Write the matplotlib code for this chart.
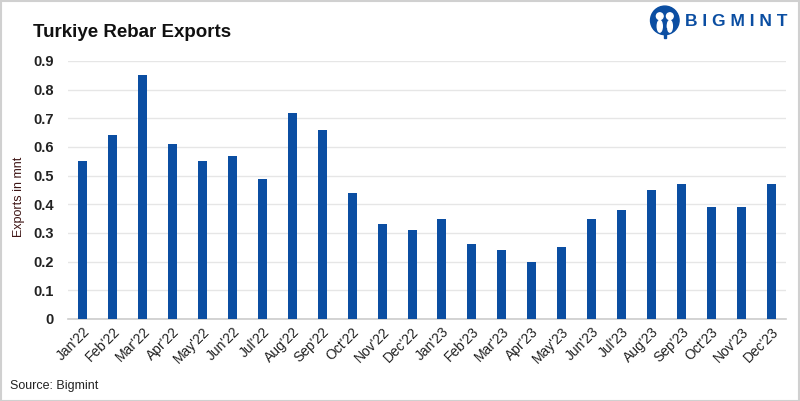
import matplotlib
matplotlib.use("Agg")
import matplotlib.pyplot as plt
from matplotlib.patches import Circle, Rectangle, Ellipse

months = ["Jan'22", "Feb'22", "Mar'22", "Apr'22", "May'22", "Jun'22", "Jul'22", "Aug'22",
          "Sep'22", "Oct'22", "Nov'22", "Dec'22", "Jan'23", "Feb'23", "Mar'23", "Apr'23",
          "May'23", "Jun'23", "Jul'23", "Aug'23", "Sep'23", "Oct'23", "Nov'23", "Dec'23"]
exports = [0.55, 0.64, 0.85, 0.61, 0.55, 0.57, 0.49, 0.72, 0.66, 0.44, 0.33, 0.31,
           0.35, 0.26, 0.24, 0.20, 0.25, 0.35, 0.38, 0.45, 0.47, 0.39, 0.39, 0.47]
yticks = [0, 0.1, 0.2, 0.3, 0.4, 0.5, 0.6, 0.7, 0.8, 0.9]

plt.rcParams['font.family'] = ['Liberation Sans', 'DejaVu Sans']

fig = plt.figure(figsize=(8, 4.01), dpi=100)
fig.patch.set_facecolor('white')
# light grey border
fig.add_artist(Rectangle((0.001, 0.001), 0.998, 0.997, transform=fig.transFigure,
                         fill=False, edgecolor='#d0d0d0', linewidth=1.5))

ax = fig.add_axes([0.085, 0.2045, 0.8975, 0.6435])
x = list(range(len(months)))
ax.bar(x, exports, width=0.3, color='#0b4ea2', zorder=3)
ax.set_xlim(-0.5, len(months) - 0.5)
ax.set_ylim(0, 0.9)
ax.set_yticks(yticks)
ax.set_yticklabels([f"{t:g}" for t in yticks], fontsize=10.5, fontweight='bold', color='#222222')
ax.set_xticks(x)
ax.set_xticklabels(months, rotation=45, ha='right', rotation_mode='anchor', fontsize=10, color='#222222')
ax.tick_params(axis='both', length=0)
ax.tick_params(axis='y', pad=10)
ax.tick_params(axis='x', pad=4)
ax.grid(axis='y', color='#e6e6e6', linewidth=1, zorder=0)
for s in ['top', 'right', 'left']:
    ax.spines[s].set_visible(False)
ax.spines['bottom'].set_color('#cccccc')
ax.spines['bottom'].set_linewidth(1.2)
ax.set_ylabel('Exports in mnt', fontsize=9, color='#3d1414')
ax.yaxis.set_label_coords(-0.06, 0.473)

fig.text(0.041, 0.92, 'Turkiye Rebar Exports', fontsize=13.5, fontweight='bold', color='#111111',
         va='center', ha='left')
fig.text(0.012, 0.038, 'Source: Bigmint', fontsize=9, color='#222222', va='center', ha='left')

# logo
blue = '#0b4ea2'
fig.text(0.856, 0.946, 'B I G M I N T', fontsize=12.5, fontweight='bold', color=blue,
         va='center', ha='left')
lax = fig.add_axes([0.81, 0.9, 0.042, 0.09])
lax.set_xlim(-1, 1)
lax.set_ylim(-1.1, 1)
lax.set_aspect('equal')
lax.axis('off')
lax.add_patch(Circle((0, 0.05), 0.85, color=blue))
lax.add_patch(Circle((-0.3, 0.3), 0.2, color='white'))
lax.add_patch(Circle((0.3, 0.3), 0.2, color='white'))
lax.add_patch(Ellipse((-0.3, -0.3), 0.3, 0.7, color='white'))
lax.add_patch(Ellipse((0.3, -0.3), 0.3, 0.7, color='white'))
lax.add_patch(Rectangle((-0.05, -1.0), 0.1, 0.6, color=blue))

fig.savefig('out.png', dpi=100, facecolor='white')
